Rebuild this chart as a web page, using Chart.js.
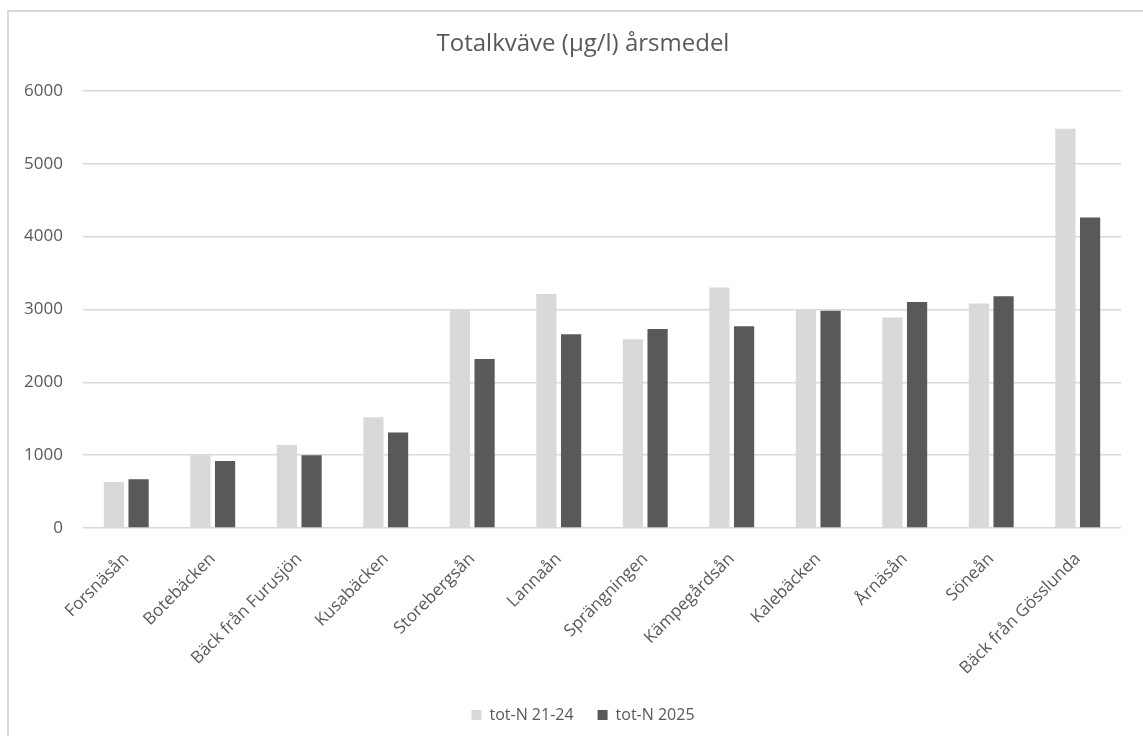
<!DOCTYPE html>
<html lang="sv">
<head>
<meta charset="utf-8">
<title>Totalkväve (µg/l) årsmedel</title>
<script src="https://cdn.jsdelivr.net/npm/chart.js@4.4.1/dist/chart.umd.min.js"></script>
<style>
  html, body { margin: 0; padding: 0; background: #ffffff; }
  #wrap { position: relative; width: 1143px; height: 736px; overflow: hidden; }
  #frame {
    position: absolute; left: 7px; top: 10px; width: 1200px; height: 800px;
    border-left: 2px solid #d9d9d9; border-top: 2px solid #d9d9d9;
  }
  #chart { position: absolute; left: 0; top: 0; }
</style>
</head>
<body>
<div id="wrap">
  <div id="frame"></div>
  <canvas id="chart" width="1166" height="736"></canvas>
</div>
<script>
// Vattendrag (mätpunkter)
const categories = [
  'Forsnäsån', 'Botebäcken', 'Bäck från Furusjön', 'Kusabäcken', 'Storebergsån',
  'Lannaån', 'Sprängningen', 'Kämpegårdsån', 'Kalebäcken', 'Årnäsån', 'Söneån',
  'Bäck från Gösslunda'
];

// Årsmedel totalkväve, µg/l
const totN2124 = [630, 1000, 1140, 1520, 3000, 3210, 2590, 3300, 3000, 2890, 3080, 5480];
const totN2025 = [670, 920, 1000, 1310, 2320, 2660, 2730, 2770, 2980, 3100, 3180, 4260];

const seriesNames = ['tot-N 21-24', 'tot-N 2025'];
const yTicks = [0, 1000, 2000, 3000, 4000, 5000, 6000];

const FONT = "'Open Sans', 'Noto Sans', sans-serif";
const TEXT = '#595959';

new Chart(document.getElementById('chart'), {
  type: 'bar',
  data: {
    labels: categories,
    datasets: [
      { label: seriesNames[0], data: totN2124, backgroundColor: '#d9d9d9', borderWidth: 0 },
      { label: seriesNames[1], data: totN2025, backgroundColor: '#595959', borderWidth: 0 }
    ]
  },
  options: {
    responsive: false,
    animation: false,
    layout: { padding: { left: 0, right: 0, top: 10, bottom: 3 } },
    datasets: { bar: { categoryPercentage: 0.57, barPercentage: 0.82 } },
    plugins: {
      title: {
        display: true,
        text: 'Totalkväve (µg/l) årsmedel',
        color: TEXT,
        font: { family: FONT, size: 24, weight: 'normal' },
        padding: { top: 20, bottom: 32 }
      },
      legend: {
        position: 'bottom',
        labels: {
          color: TEXT,
          font: { family: FONT, size: 16 },
          boxWidth: 10,
          boxHeight: 10,
          padding: 24
        }
      },
      tooltip: { enabled: false }
    },
    scales: {
      x: {
        grid: { display: false },
        border: { display: false },
        ticks: {
          color: TEXT,
          font: { family: FONT, size: 17 },
          minRotation: 45,
          maxRotation: 45,
          autoSkip: false,
          padding: 13
        },
        afterFit(scale) { scale.height = 155; }
      },
      y: {
        min: yTicks[0],
        max: yTicks[yTicks.length - 1],
        afterBuildTicks(scale) { scale.ticks = yTicks.map(v => ({ value: v })); },
        grid: { color: '#d9d9d9', lineWidth: 1.5, drawTicks: false },
        border: { display: false },
        ticks: {
          color: TEXT,
          font: { family: FONT, size: 17 },
          padding: 20,
          callback: v => String(v)
        },
        afterFit(scale) { scale.width = 83; }
      },
      // empty right-hand margin so the plot ends where the frame's content does
      margin: {
        type: 'linear',
        position: 'right',
        grid: { display: false, drawTicks: false },
        border: { display: false },
        ticks: { display: false },
        afterFit(scale) { scale.width = 45; }
      }
    }
  }
});
</script>
</body>
</html>
